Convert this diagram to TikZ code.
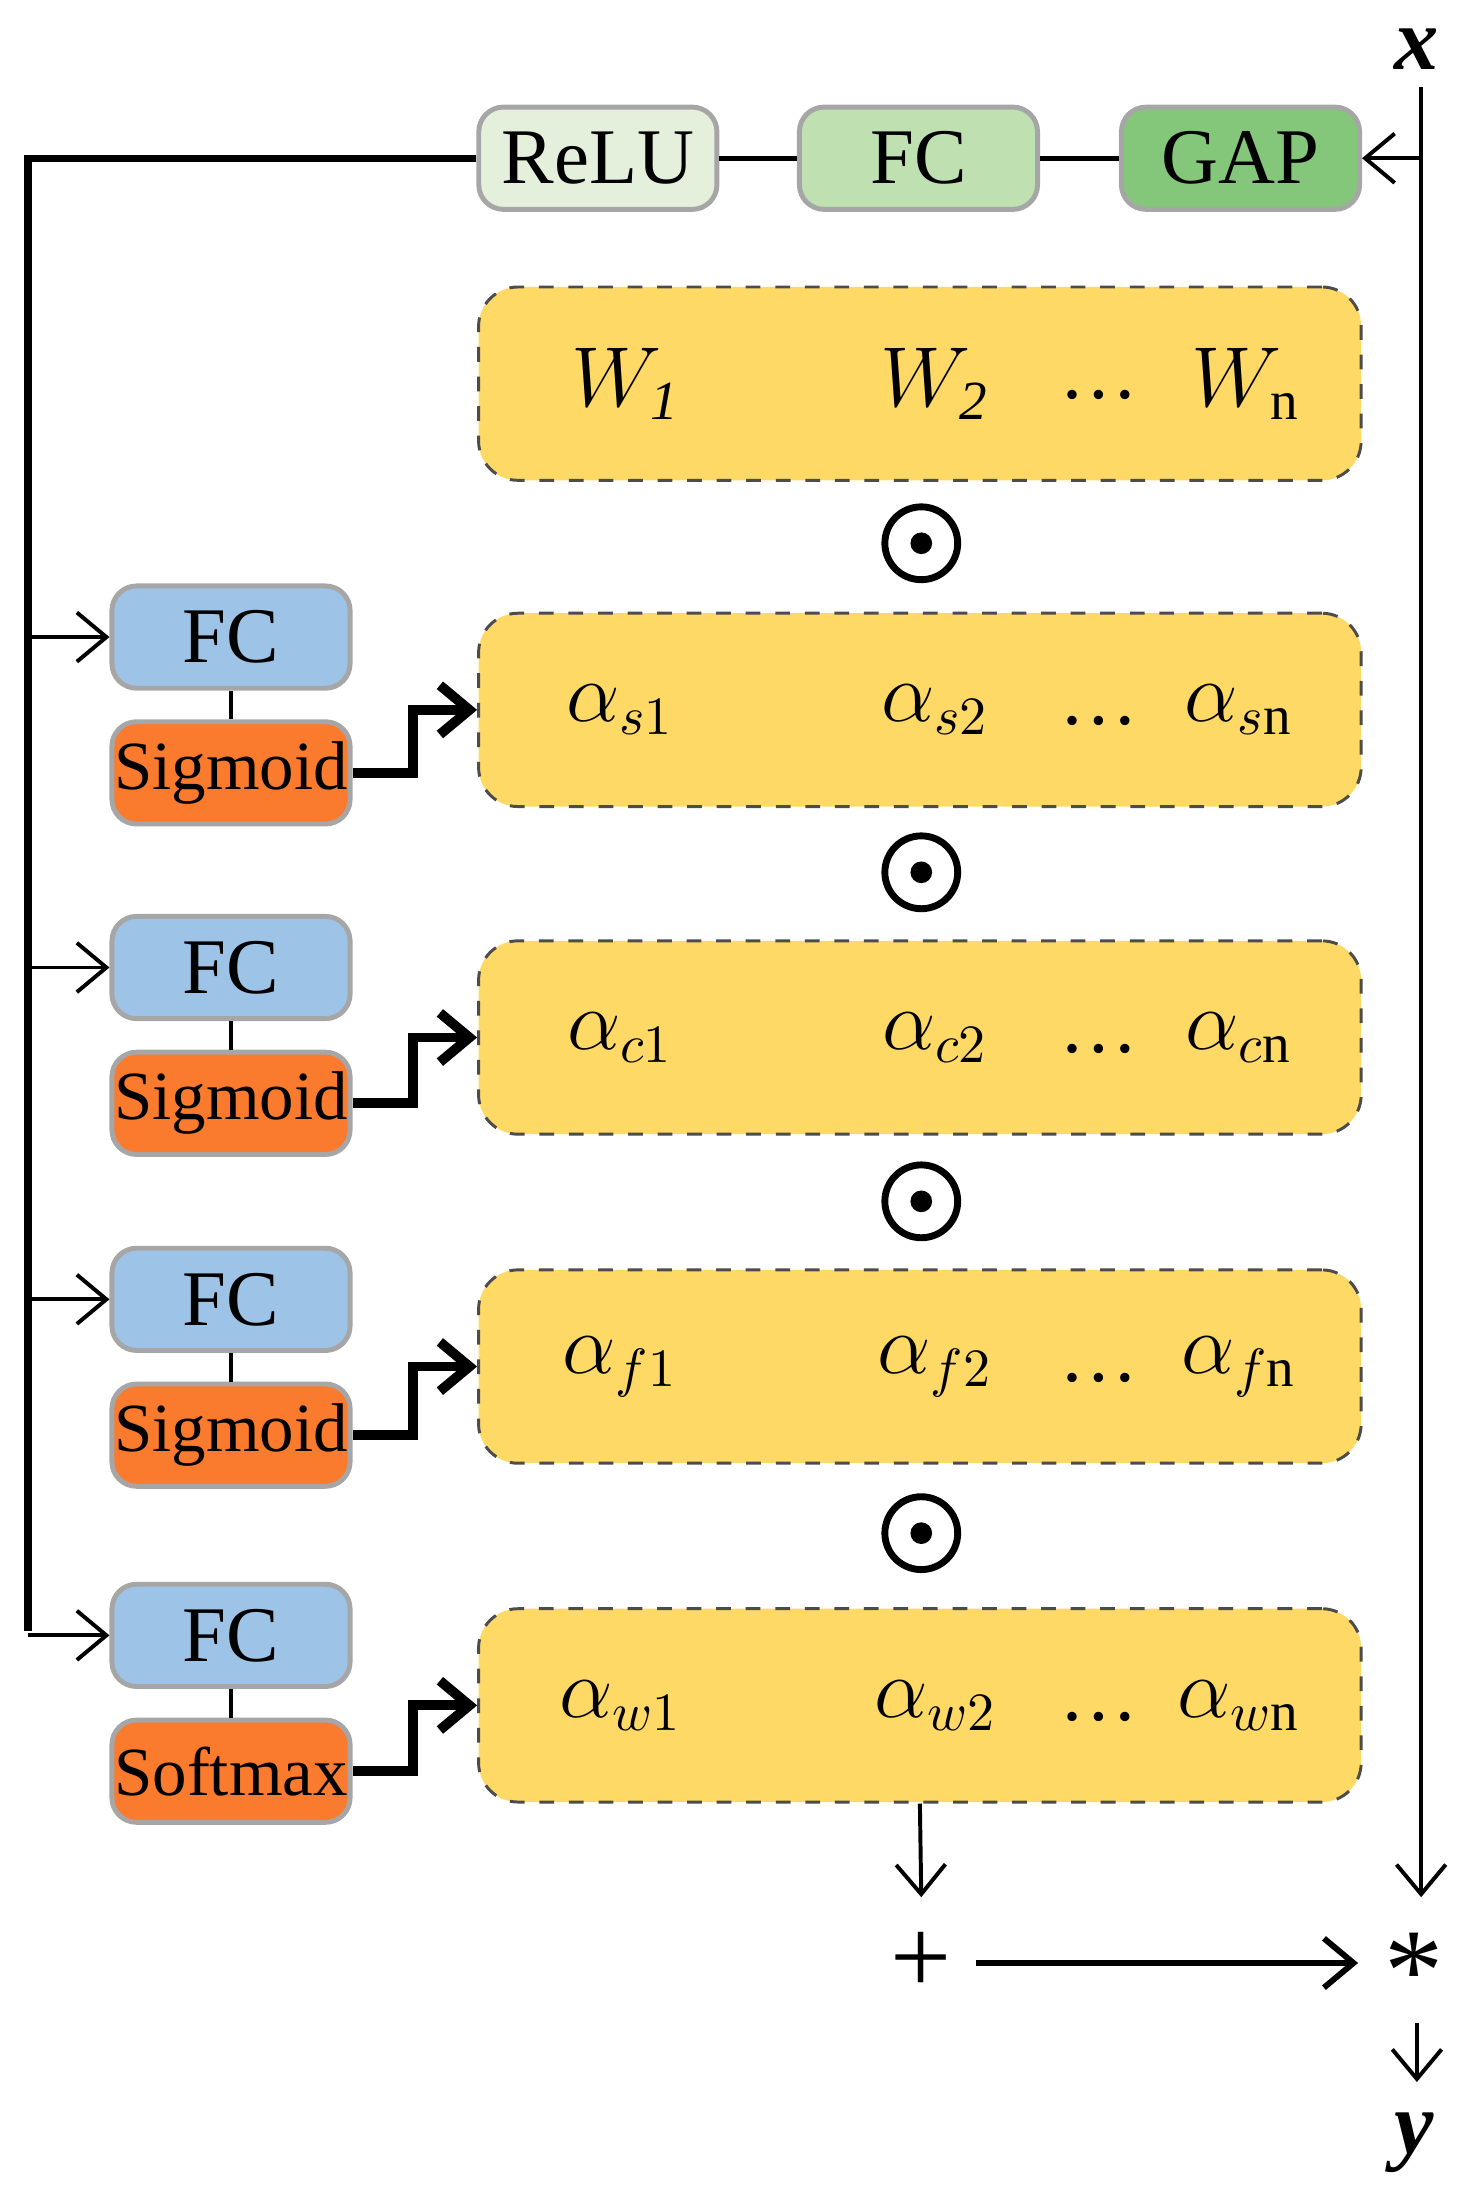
\documentclass[tikz,border=0pt]{standalone}
\usepackage{fontspec}
\setmainfont{Liberation Serif}
\usetikzlibrary{arrows.meta}
\definecolor{gA}{HTML}{E4F0DC}
\definecolor{gB}{HTML}{BFE0B0}
\definecolor{gC}{HTML}{85C77A}
\definecolor{bl}{HTML}{9DC3E6}
\definecolor{orn}{HTML}{FA7A2E}
\definecolor{yel}{HTML}{FFD966}
\begin{document}
\begin{tikzpicture}[x=0.01cm,y=-0.01cm,
  box/.style={draw=gray!70,line width=1pt,rounded corners=5pt,minimum width=1.7cm,minimum height=0.73cm,inner sep=0pt,font=\fontsize{16}{18}\selectfont},
  sbox/.style={box,font=\fontsize{14}{16}\selectfont},
  ybox/.style={draw=black!70,dashed,line width=0.6pt,fill=yel,rounded corners=8pt,minimum width=6.3cm,minimum height=1.38cm},
  lbl/.style={font=\fontsize{16}{18}\selectfont},
  thin/.style={line width=0.8pt,-{Straight Barb[length=6pt,width=10pt]}},
  thick/.style={line width=2pt,-{Straight Barb[length=6pt,width=10pt]}},
  odot/.style={circle,draw,line width=1.4pt,minimum size=0.52cm,inner sep=0pt}]
\useasboundingbox (0,0) rectangle (1040,1562);
\node[box,fill=gA] (relu) at (427,113) {ReLU};
\node[box,fill=gB] (fc0) at (656,113) {FC};
\node[box,fill=gC] (gap) at (886,113) {GAP};
\node[font=\fontsize{18}{20}\selectfont\itshape\bfseries] (xl) at (1012,35) {x};
\coordinate (xt) at (1015,62);
\coordinate (xb) at (1015,1355);
\coordinate (lt) at (20,113);
\draw[line width=1pt] (relu) -- (fc0) (fc0) -- (gap);
\draw[thin] (xt) -- (xb);
\draw[thin] (1015,113) -- (gap);
\draw[line width=1.5pt] (relu.west) -- (lt) -- (20,1165);
% yellow rows
\node[ybox] (yW) at (657,274) {};
\node[lbl] at (447,274) {$W_{\mathit 1}$};
\node[lbl] at (668,274) {$W_{\mathit 2}$};
\node[lbl] at (785,282) {\dots};
\node[lbl] at (890,274) {$W_{\mathrm n}$};
\foreach \y/\s/\n [count=\i] in {507/s/1, 741/c/2, 976/f/3, 1218/w/4}{
  \node[ybox] (y\i) at (657,\y) {};
  \node[lbl] at (443,\y) {$\alpha_{\s1}$};
  \node[lbl] at (668,\y) {$\alpha_{\s2}$};
  \node[lbl] at (785,\y+8) {\dots};
  \node[lbl] at (885,\y) {$\alpha_{\s\mathrm{n}}$};
}
\foreach \y/\t [count=\i] in {455/Sigmoid, 691/Sigmoid, 928/Sigmoid, 1168/Softmax}{
  \node[box,fill=bl] (fc\i) at (165,\y) {FC};
  \node[sbox,fill=orn] (sg\i) at (165,\y+97) {\t};
  \draw[line width=1pt] (fc\i) -- (sg\i);
  \draw[thin] (20,\y) -- (fc\i.west);
}
\foreach \i in {1,...,4}{
  \draw[thick] (sg\i.east) -- ++(43,0) |- (y\i.west);
}
\foreach \y in {388,623,858,1095}{
  \node[odot] at (658,\y) {}; \fill (658,\y) circle (2.2pt);
}
\node[font=\fontsize{22}{22}\selectfont] (plus) at (658,1402) {+};
\node[font=\fontsize{24}{24}\selectfont] (star) at (1010,1408) {*};
\node[font=\fontsize{18}{20}\selectfont\itshape\bfseries] (yl) at (1010,1530) {y};
\draw[thin] (y4.south) -- (658,1355);
\draw[line width=1.2pt,-{Straight Barb[length=6pt,width=10pt]}] (697,1402) -- (970,1402);
\draw[thin] (1012,1445) -- (1012,1487);
\end{tikzpicture}
\end{document}
